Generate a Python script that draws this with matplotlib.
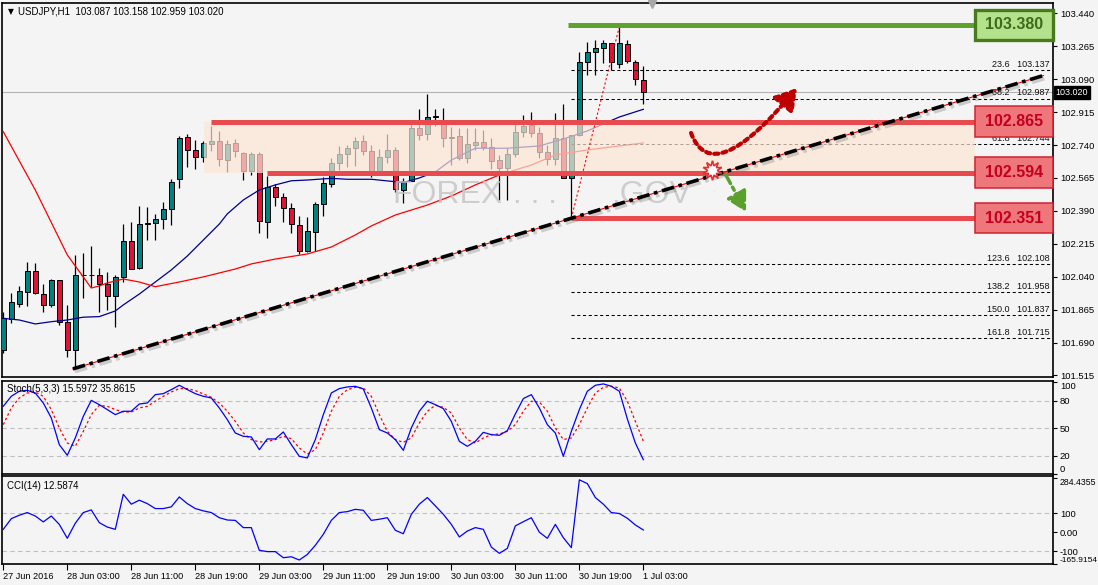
import matplotlib
matplotlib.use('Agg')
import matplotlib.pyplot as plt
import numpy as np
from matplotlib.patches import Rectangle, FancyArrowPatch
from matplotlib.path import Path
import matplotlib.patheffects as pe

plt.rcParams['font.family'] = ['Liberation Sans', 'DejaVu Sans']

# ---------------- data ----------------
x_labels = ['27 Jun 2016', '28 Jun 03:00', '28 Jun 11:00', '28 Jun 19:00', '29 Jun 03:00',
            '29 Jun 11:00', '29 Jun 19:00', '30 Jun 03:00', '30 Jun 11:00', '30 Jun 19:00',
            '1 Jul 03:00']

opens = [101.651, 101.816, 101.897, 101.961, 102.071, 101.948, 101.888, 102.021, 101.800, 101.651,
         102.049, 102.047, 102.049, 102.000, 101.936, 102.037, 102.230, 102.085, 102.322, 102.324,
         102.345, 102.398, 102.558, 102.781, 102.712, 102.675, 102.744, 102.760, 102.662, 102.749,
         102.696, 102.604, 102.692, 102.333, 102.515, 102.462, 102.404, 102.315, 102.178, 102.279,
         102.425, 102.533, 102.646, 102.691, 102.723, 102.761, 102.708, 102.604, 102.675, 102.714,
         102.501, 102.550, 102.829, 102.797, 102.893, 102.864, 102.781, 102.790, 102.673, 102.740,
         102.754, 102.731, 102.660, 102.620, 102.691, 102.808, 102.846, 102.802, 102.701, 102.664,
         102.776, 102.566, 102.793, 103.183, 103.233, 103.254, 103.281, 103.169, 103.275, 103.183,
         103.087]
highs = [101.854, 101.952, 101.991, 102.117, 102.112, 102.002, 102.028, 102.023, 101.888, 102.156,
         102.165, 102.203, 102.088, 102.064, 102.051, 102.320, 102.333, 102.416, 102.412, 102.374,
         102.437, 102.559, 102.790, 102.797, 102.765, 102.761, 102.841, 102.815, 102.767, 102.770,
         102.705, 102.705, 102.705, 102.575, 102.533, 102.483, 102.430, 102.363, 102.356, 102.439,
         102.568, 102.670, 102.735, 102.740, 102.784, 102.793, 102.740, 102.717, 102.799, 102.731,
         102.563, 102.864, 102.930, 103.010, 102.932, 102.935, 102.837, 102.829, 102.829, 102.829,
         102.820, 102.779, 102.687, 102.724, 102.856, 102.900, 102.914, 102.837, 102.740, 102.909,
         102.956, 102.793, 103.236, 103.289, 103.298, 103.298, 103.283, 103.370, 103.298, 103.192,
         103.158]
lows = [101.635, 101.796, 101.881, 101.886, 101.948, 101.854, 101.880, 101.782, 101.615, 101.554,
        101.926, 101.987, 101.854, 101.863, 101.771, 102.014, 102.080, 102.082, 102.235, 102.235,
        102.294, 102.317, 102.510, 102.625, 102.611, 102.651, 102.710, 102.630, 102.598, 102.678,
        102.554, 102.581, 102.271, 102.244, 102.416, 102.333, 102.274, 102.161, 102.173, 102.178,
        102.363, 102.515, 102.607, 102.625, 102.629, 102.687, 102.568, 102.600, 102.643, 102.492,
        102.434, 102.548, 102.767, 102.767, 102.841, 102.731, 102.634, 102.660, 102.645, 102.714,
        102.714, 102.613, 102.448, 102.448, 102.678, 102.784, 102.784, 102.670, 102.634, 102.634,
        102.563, 102.351, 102.790, 103.112, 103.112, 103.174, 103.139, 103.151, 103.174, 103.059,
        102.959]
closes = [101.819, 101.904, 101.963, 102.071, 101.952, 101.888, 102.021, 101.800, 101.651, 102.049,
          102.047, 102.048, 102.000, 101.936, 102.039, 102.230, 102.080, 102.319, 102.321, 102.347,
          102.398, 102.544, 102.776, 102.714, 102.675, 102.749, 102.760, 102.667, 102.744, 102.710,
          102.604, 102.692, 102.335, 102.515, 102.462, 102.404, 102.319, 102.178, 102.283, 102.427,
          102.537, 102.646, 102.691, 102.723, 102.761, 102.710, 102.604, 102.675, 102.714, 102.505,
          102.550, 102.829, 102.793, 102.891, 102.889, 102.779, 102.777, 102.673, 102.744, 102.758,
          102.731, 102.657, 102.620, 102.691, 102.808, 102.841, 102.802, 102.701, 102.664, 102.776,
          102.563, 102.793, 103.183, 103.233, 103.254, 103.281, 103.180, 103.281, 103.187, 103.089,
          103.020]

ma_blue_idx = [0, 2, 4, 6, 8, 10, 12, 14, 15, 17, 19, 21, 23, 25, 27, 28, 30, 32, 34, 36, 38, 41,
               43, 46, 49, 50, 52, 54, 56, 59, 63, 67, 70, 73, 75, 77, 80]
ma_blue_val = [101.819, 101.810, 101.789, 101.801, 101.810, 101.825, 101.828, 101.858, 101.890,
               101.948, 102.012, 102.076, 102.150, 102.235, 102.320, 102.374, 102.448, 102.501,
               102.528, 102.550, 102.554, 102.563, 102.558, 102.558, 102.545, 102.540, 102.565,
               102.597, 102.660, 102.723, 102.723, 102.735, 102.772, 102.815, 102.852, 102.889,
               102.930]
ma_red_idx = [0, 4, 8, 11, 12, 13, 15, 17, 19, 22, 25, 27, 29, 31, 34, 38, 41, 44, 46, 49, 53, 56,
              59, 62, 66, 69, 73, 76, 80]
ma_red_val = [102.811, 102.501, 102.156, 101.980, 101.991, 102.007, 102.028, 102.012, 101.987,
              102.012, 102.039, 102.060, 102.081, 102.108, 102.134, 102.161, 102.198, 102.262,
              102.310, 102.368, 102.421, 102.469, 102.528, 102.581, 102.634, 102.687, 102.714,
              102.730, 102.751]

stoch_k = [73.8, 84.7, 90.2, 91.2, 88.3, 77.4, 61.1, 32.0, 20.4, 39.3,
           62.9, 80.3, 75.6, 70.2, 64.7, 68.4, 68.4, 76.3, 77.4, 86.5,
           87.6, 92.0, 96.7, 92.0, 87.6, 84.7, 82.9, 72.0, 59.3, 44.7,
           41.1, 40.4, 26.5, 38.2, 38.2, 45.8, 32.0, 19.3, 17.5, 37.5,
           64.7, 88.3, 93.1, 94.9, 95.6, 92.7, 72.0, 48.4, 44.7, 37.5,
           25.8, 50.2, 68.4, 79.3, 75.6, 71.3, 57.4, 35.6, 30.2, 35.6,
           45.4, 42.9, 42.2, 47.3, 65.4, 82.2, 86.5, 72.0, 53.8, 44.7,
           19.3, 46.5, 70.2, 90.2, 96.7, 98.2, 95.6, 90.2, 60.0, 33.8,
           15.5972]
stoch_d = [53.8, 72.0, 82.9, 88.3, 89.4, 84.7, 70.2, 50.2, 33.8, 30.2,
           46.5, 64.7, 74.9, 73.8, 70.2, 67.6, 67.6, 72.0, 73.8, 79.3,
           84.7, 89.4, 93.1, 93.1, 90.9, 87.3, 83.6, 77.4, 68.4, 57.4,
           44.7, 37.5, 34.9, 35.6, 37.5, 41.1, 38.5, 28.4, 21.8, 26.5,
           44.7, 68.4, 84.7, 92.0, 94.5, 93.8, 84.7, 64.7, 46.5, 37.5,
           34.5, 39.3, 55.6, 68.4, 74.9, 72.7, 66.5, 50.2, 37.5, 33.8,
           39.3, 42.9, 43.6, 46.5, 53.8, 68.4, 79.3, 78.5, 68.4, 50.2,
           37.5, 39.3, 53.8, 72.0, 88.3, 94.5, 95.6, 93.8, 79.3, 57.4,
           35.8615]
cci = [16, 72, 90, 104, 86, 55, 86, 42, -31, 48,
       104, 118, 51, 28, 16, 200, 148, 169, 151, 125,
       125, 134, 186, 151, 125, 113, 104, 77, 65, 63,
       25, 25, -94, -101, -101, -133, -128, -145, -116, -68,
       -10, 63, 104, 109, 121, 116, 63, 69, 77, 11,
       -7, 95, 148, 183, 139, 95, 42, -24, 7, 25,
       16, -77, -110, -84, 34, 56, 77, 1, -31, 42,
       -28, -80, 276, 256, 183, 148, 104, 99, 74, 39,
       12.5874]

price_ticks = [103.440, 103.265, 103.090, 102.915, 102.740, 102.565, 102.390,
               102.215, 102.040, 101.865, 101.690, 101.515]
fib_pct = ['23.6', '38.2', '61.8', '123.6', '138.2', '150.0', '161.8']
fib_price = [103.137, 102.987, 102.744, 102.108, 101.958, 101.837, 101.715]
level_green = 103.380
levels_red = [102.865, 102.594, 102.351]
last_price = 103.020

# ---------------- layout ----------------
W, H = 1098, 585
BG = '#f4f4f4'
fig = plt.figure(figsize=(W / 100, H / 100), dpi=100, facecolor=BG)


def frac(x0, y0, x1, y1):
    return [x0 / W, 1 - y1 / H, (x1 - x0) / W, (y1 - y0) / H]


ax = fig.add_axes(frac(2, 3, 1053, 377))
axs = fig.add_axes(frac(2, 380.7, 1053, 474))
axc = fig.add_axes(frac(2, 476, 1053, 564))
XL = (-0.16, 131.2)
for a in (ax, axs, axc):
    a.set_facecolor(BG)
    a.set_xlim(*XL)
    for s in a.spines.values():
        s.set_color('black')
        s.set_linewidth(1.2)
    a.yaxis.tick_right()
    a.tick_params(axis='y', direction='out', length=3, labelsize=6.8, pad=2, width=0.8)
    a.tick_params(axis='x', bottom=False, labelbottom=False)

# ---------------- main price panel ----------------
ax.set_ylim(101.507, 103.495)
ax.set_yticks(price_ticks)
ax.set_yticklabels([f'{v:.3f}' for v in price_ticks])

o = np.array(opens); h = np.array(highs); l = np.array(lows); c = np.array(closes)
xs = np.arange(len(o))
up = c >= o
ax.axhline(last_price, color='#b4b4b4', lw=0.8, zorder=1)
ax.vlines(xs, l, h, color='black', lw=0.9, zorder=2)
ax.bar(xs, np.maximum(np.abs(c - o), 0.0025), bottom=np.minimum(o, c), width=0.68,
       color=np.where(up, '#008080', '#dc143c'), edgecolor='black', linewidth=0.7, zorder=3)

ax.plot(ma_blue_idx, ma_blue_val, color='#00008b', lw=0.9, zorder=4)
ax.plot(ma_red_idx, ma_red_val, color='#ff0000', lw=0.9, zorder=4)

# fibonacci levels
for pct, pr in zip(fib_pct, fib_price):
    ax.hlines(pr, 71, XL[1], color='black', lw=0.75, linestyles=(0, (3, 2.5)), zorder=4)
    ax.text(130.8, pr + 0.006, f'{pct}   {pr:.3f}', fontsize=6.5, ha='right', va='bottom',
            zorder=6, color='#111111')
# fib diagonal
ax.plot([71, 77], [lows[71], highs[77]], color='red', lw=0.8, ls=(0, (2, 2)), zorder=6)

# support / resistance zone
ax.add_patch(Rectangle((25.1, levels_red[1]), 121.5 - 25.1, levels_red[0] - levels_red[1],
                       facecolor='#fde6d6', alpha=0.7, lw=0, zorder=5))

# horizontal levels
ax.hlines(level_green, 70.6, 121.5, color='#5ea22e', lw=3.6, zorder=6)
for lev, x0 in zip(levels_red, [26.0, 32.9, 71.0]):
    ax.hlines(lev, x0, 121.5, color='#e84a4d', lw=3.6, zorder=6)

# trend line (connects two swing lows and extends)
slope = (lows[71] - lows[9]) / (71 - 9)
tx = np.array([8.7, 130.0])
ty = lows[9] + slope * (tx - 9)
ax.plot(tx, ty, color='red', lw=0.8, zorder=7)
ax.plot(tx, ty, color='black', lw=2.6, ls=(0, (3.5, 1.3, 1, 1.3)), zorder=7,
        path_effects=[pe.SimpleLineShadow(offset=(1.5, -2), shadow_color='gray', alpha=0.35),
                      pe.Normal()])

# level boxes
def level_box(lev, fc, ec, tc, elw):
    ax.add_patch(Rectangle((121.5, lev - 0.08), 9.7, 0.16, facecolor=fc, edgecolor=ec,
                           lw=elw, zorder=8, clip_on=False))
    ax.text(126.35, lev, f'{lev:.3f}', fontsize=11.5, fontweight='bold', color=tc,
            ha='center', va='center', zorder=9, clip_on=False)


level_box(level_green, '#b4e28c', '#4a7a1e', '#3d6b1c', 2.4)
for lev in levels_red:
    level_box(lev, '#ee777c', '#d42030', '#c4001c', 1.1)

# current price tag
ax.text(131.55, last_price, f'{last_price:.3f}', color='white', fontsize=6.5, va='center',
        ha='left', zorder=10, clip_on=False,
        bbox=dict(boxstyle='square,pad=0.2', fc='black', ec='black'))

# arrows
red_path = Path([(85.96, 102.804), (88.6, 102.50), (99.2, 103.043)],
                [Path.MOVETO, Path.CURVE3, Path.CURVE3])
ax.add_patch(FancyArrowPatch(path=red_path, arrowstyle='-|>,head_length=0.9,head_width=0.55',
                             mutation_scale=14, color='#c00000', lw=3, linestyle=(0, (1, 1)),
                             zorder=8))
ax.add_patch(FancyArrowPatch((90.1, 102.597), (93.0, 102.372),
                             arrowstyle='-|>,head_length=0.9,head_width=0.5', mutation_scale=13,
                             color='#5aa02c', lw=2.5, linestyle=(0, (3, 1.2, 1, 1.2)), zorder=8))
ax.plot([88.6], [102.607], marker=(10, 1, 0), ms=14, mfc='white', mec='#e03030', mew=1.2,
        zorder=9)

# watermark
ax.text(55.5, 102.474, 'FOREX', fontsize=23, color='#c4c4c4', alpha=0.8, ha='center',
        va='center', zorder=5)
ax.text(66.5, 102.474, '. . .', fontsize=23, color='#c4c4c4', alpha=0.8, ha='center',
        va='center', zorder=5)
ax.text(81.0, 102.474, '.GOV', fontsize=23, color='#c4c4c4', alpha=0.8, ha='center',
        va='center', zorder=5)

# header
ax.text(0.006, 0.976, '\u25BC', transform=ax.transAxes, fontsize=5.5, va='center', ha='left',
        family=['DejaVu Sans'])
ax.text(0.0155, 0.976, 'USDJPY,H1  103.087 103.158 102.959 103.020', transform=ax.transAxes,
        fontsize=7, va='center', ha='left')
ax.plot([81.1], [103.492], marker='v', color='#a8a8a8', ms=6, clip_on=False, zorder=10)

# ---------------- stochastic panel ----------------
axs.set_ylim(0, 101.7)
for lv in (80, 50, 20):
    axs.axhline(lv, color='#c0c0c0', lw=0.8, ls=(0, (4, 3)), zorder=1)
axs.plot(xs, stoch_k, color='#0000ff', lw=0.9, zorder=3)
axs.plot(xs, stoch_d, color='#ff0000', lw=0.9, ls=(0, (2, 2)), zorder=2)
axs.set_yticks([100, 80, 50, 20, 0])
axs.set_yticklabels(['100', '80', '50', '20', '0'])
lbls = axs.get_yticklabels()
lbls[0].set_va('top')
lbls[-1].set_va('bottom')
axs.text(0.005, 0.96, f'Stoch(5,3,3) {stoch_k[-1]:.4f} {stoch_d[-1]:.4f}', transform=axs.transAxes,
         fontsize=7, va='top', ha='left')

# ---------------- CCI panel ----------------
axc.set_ylim(-166, 296)
for lv in (100, -100):
    axc.axhline(lv, color='#c0c0c0', lw=0.8, ls=(0, (4, 3)), zorder=1)
axc.plot(xs, cci, color='#0000ff', lw=0.9, zorder=3)
axc.set_yticks([284.4355, 100, 0, -100, -165.9154])
axc.set_yticklabels(['284.4355', '100', '0.00', '-100', '-165.9154'])
cl = axc.get_yticklabels()
cl[0].set_va('top')
cl[0].set_fontsize(6.3)
cl[-1].set_va('bottom')
cl[-1].set_fontsize(6.0)
axc.text(0.005, 0.94, f'CCI(14) {cci[-1]:.4f}', transform=axc.transAxes,
         fontsize=7, va='top', ha='left')

axc.tick_params(axis='x', bottom=True, labelbottom=True, direction='out', length=4,
                labelsize=6.6, pad=2, width=0.8)
axc.set_xticks(np.arange(0, 81, 8))
axc.set_xticklabels(x_labels)
for t in axc.get_xticklabels():
    t.set_ha('left')

fig.savefig('out.png', dpi=100, facecolor=BG)
